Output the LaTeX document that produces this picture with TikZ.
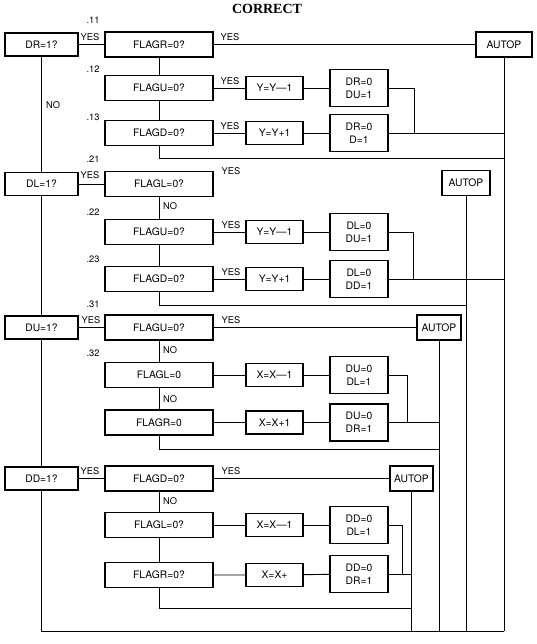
\documentclass[tikz,border=0pt]{standalone}
\usepackage{fontspec}
\setmainfont{TeX Gyre Heros}
\newfontfamily\titlefont{Liberation Serif}
\usetikzlibrary{positioning,calc}
\tikzset{
  box/.style    ={draw, line width=1.3pt, inner sep=0pt, align=center,
                  font=\fontsize{10.3}{13}\selectfont},
  entry/.style  ={box, minimum width=73pt, minimum height=23pt},
  test/.style   ={box, minimum width=108pt, minimum height=25pt},
  stepbox/.style={box, minimum width=57pt, minimum height=23pt},
  setbox/.style ={box, minimum width=58pt, minimum height=37pt},
  autop/.style  ={box, minimum height=25pt},
  wire/.style   ={line width=0.9pt},
  ans/.style    ={font=\fontsize{9.3}{10}\selectfont, inner sep=1pt},
  tag/.style    ={font=\fontsize{9.3}{10}\selectfont, inner sep=0pt},
}

\begin{document}
\begin{tikzpicture}[x=1pt, y=-1pt]
  \useasboundingbox (0,0) rectangle (536,644);
  \node[font=\fontsize{14}{16}\selectfont\titlefont\bfseries] (title) at (267,9) {CORRECT};

  % DR
  \node[entry]   (dr)  at (41.5,44.5) {DR=1?};
  \node[test]    (fr1) at (159,44.5)  {FLAGR=0?};
  \node[autop, minimum width=56pt] (ap1) at (504,44.5) {AUTOP};
  \node[test]    (fu1) at (159,88)    {FLAGU=0?};
  \node[stepbox] (sy1) at (274.5,88)  {Y=Y—1};
  \node[setbox]  (ss1) at (359,88)    {DR=0\\DU=1};
  \node[test]    (fd1) at (159,133)   {FLAGD=0?};
  \node[stepbox] (sy2) at (274.5,133) {Y=Y+1};
  \node[setbox]  (ss2) at (359,133)   {DR=0\\D=1};

  % DL
  \node[entry]   (dl)  at (41.5,184)  {DL=1?};
  \node[test]    (fl2) at (159,184)   {FLAGL=0?};
  \node[autop, minimum width=48pt] (ap2) at (466,183) {AUTOP};
  \node[test]    (fu2) at (159,232)   {FLAGU=0?};
  \node[stepbox] (sy3) at (274.5,232) {Y=Y—1};
  \node[setbox]  (ss3) at (359,232)   {DL=0\\DU=1};
  \node[test]    (fd2) at (159,279)   {FLAGD=0?};
  \node[stepbox] (sy4) at (274.5,279) {Y=Y+1};
  \node[setbox]  (ss4) at (359,279)   {DL=0\\DD=1};

  % DU
  \node[entry]   (du)  at (41.5,327.5) {DU=1?};
  \node[test]    (fu3) at (159,327.5)  {FLAGU=0?};
  \node[autop, minimum width=44pt] (ap3) at (439,327.5) {AUTOP};
  \node[test]    (fl3) at (159,375)    {FLAGL=0};
  \node[stepbox] (sx1) at (274.5,375)  {X=X—1};
  \node[setbox]  (ss5) at (359,375)    {DU=0\\DL=1};
  \node[test]    (fr3) at (159,422.5)  {FLAGR=0};
  \node[stepbox] (sx2) at (274.5,422.5){X=X+1};
  \node[setbox]  (ss6) at (359,422.5)  {DU=0\\DR=1};

  % DD
  \node[entry]   (dd)  at (41.5,478.5) {DD=1?};
  \node[test]    (fd4) at (159,478.5)  {FLAGD=0?};
  \node[autop, minimum width=43pt] (ap4) at (411.5,478.5) {AUTOP};
  \node[test]    (fl4) at (159,525)    {FLAGL=0?};
  \node[stepbox] (sx3) at (274.5,525)  {X=X—1};
  \node[setbox]  (ss7) at (359,525)    {DD=0\\DL=1};
  \node[test]    (fr4) at (159,575)    {FLAGR=0?};
  \node[stepbox] (sx4) at (274.5,575)  {X=X+};
  \node[setbox]  (ss8) at (359,574)    {DD=0\\DR=1};

  \foreach \yy/\lab [count=\i] in {20/.11, 69/.12, 117/.13, 159/.21, 212/.22, 259/.23, 304/.31, 353/.32}
    \node[tag] (tag\i) at (93,\yy) {\lab};

  \coordinate (ret1) at (0,158);
  \coordinate (ret2) at (0,305);
  \coordinate (ret3) at (0,449);
  \coordinate (ret4) at (0,608);
  \coordinate (base) at (41.5,631);
  \coordinate (j1) at (414,133);
  \coordinate (j2) at (413,279);
  \coordinate (j3) at (407,422.5);
  \coordinate (j4) at (402,574);

  % main chain
  \draw[wire] (dr) -- (dl);
  \draw[wire] (dl) -- (du);
  \draw[wire] (du) -- (dd);
  \draw[wire] (dd) -- (base) -- (base -| ap1);
  \foreach \a in {ap1,ap2,ap3,ap4}
    \draw[wire] (\a) -- (\a |- base);

  % DR branch
  \draw[wire] (dr) -- (fr1);
  \draw[wire] (fr1) -- (ap1);
  \draw[wire] (fr1) -- (fu1);
  \draw[wire] (fu1) -- (fd1);
  \draw[wire] (fu1) -- (sy1) -- (ss1);
  \draw[wire] (fd1) -- (sy2) -- (ss2);
  \draw[wire] (ss1) -| (j1);
  \draw[wire] (ss2) -- (ss2 -| ap1);
  \draw[wire] (fd1) |- (ap1 |- ret1);

  % DL branch
  \draw[wire] (dl) -- (fl2);
  \draw[wire] (fl2) -- (fu2);
  \draw[wire] (fu2) -- (fd2);
  \draw[wire] (fu2) -- (sy3) -- (ss3);
  \draw[wire] (fd2) -- (sy4) -- (ss4);
  \draw[wire] (ss3) -| (j2);
  \draw[wire] (ss4) -- (ss4 -| ap1);
  \draw[wire] (fd2) |- (ap2 |- ret2);

  % DU branch
  \draw[wire] (du) -- (fu3);
  \draw[wire] (fu3) -- (ap3);
  \draw[wire] (fu3) -- (fl3);
  \draw[wire] (fl3) -- (fr3);
  \draw[wire] (fl3) -- (sx1) -- (ss5);
  \draw[wire] (fr3) -- (sx2) -- (ss6);
  \draw[wire] (ss5) -| (j3);
  \draw[wire] (ss6) -- (ss6 -| ap3);
  \draw[wire] (fr3) |- (ap3 |- ret3);

  % DD branch
  \draw[wire] (dd) -- (fd4);
  \draw[wire] (fd4) -- (ap4);
  \draw[wire] (fd4) -- (fl4);
  \draw[wire] (fl4) -- (fr4);
  \draw[wire] (fl4) -- (sx3) -- (ss7);
  \draw[wire] (fr4) -- (sx4) -- (ss8);
  \draw[wire] (ss7) -| (j4);
  \draw[wire] (ss8) -- (ss8 -| ap4);
  \draw[wire] (fr4) |- (ap4 |- ret4);

  % answers
  \node[ans] (y1)  at (90,37)   {YES};
  \node[ans] (y2)  at (230,37)  {YES};
  \node[ans] (y3)  at (230,81)  {YES};
  \node[ans] (y4)  at (230,126) {YES};
  \node[ans, anchor=west] (n1) at (45,105) {NO};
  \node[ans] (y5)  at (90,175)  {YES};
  \node[ans] (y6)  at (231,171) {YES};
  \node[ans, anchor=west] (n2) at (162,206) {NO};
  \node[ans] (y7)  at (231,225) {YES};
  \node[ans] (y8)  at (231,272) {YES};
  \node[ans] (y9)  at (91,320)  {YES};
  \node[ans] (y10) at (231,320) {YES};
  \node[ans, anchor=west] (n3) at (162,350) {NO};
  \node[ans, anchor=west] (n4) at (162,399) {NO};
  \node[ans] (y11) at (90,471)  {YES};
  \node[ans] (y12) at (231,471) {YES};
  \node[ans, anchor=west] (n5) at (162,501) {NO};
\end{tikzpicture}
\end{document}
